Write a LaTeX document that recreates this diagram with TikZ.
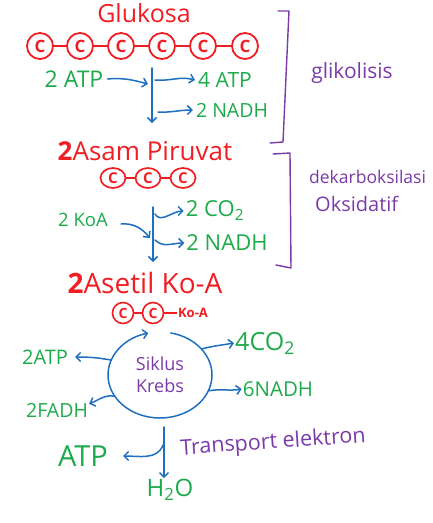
\documentclass[tikz,border=0pt]{standalone}
\usepackage{fontspec}
\setmainfont{Open Sans}
\usetikzlibrary{arrows.meta,shapes.geometric}
\definecolor{hred}{HTML}{F01E23}
\definecolor{hgreen}{HTML}{1DAA4B}
\definecolor{hblue}{HTML}{1F6FC0}
\definecolor{hpurple}{HTML}{7A3AA8}
\tikzset{
  carbon/.style={circle, draw=hred, line width=1.8pt, text=hred, minimum size=26pt, inner sep=0pt, font=\bfseries\fontsize{17}{17}\selectfont},
  carbonsm/.style={ellipse, draw=hred, line width=1.7pt, text=hred, minimum width=25pt, minimum height=20pt, inner sep=0pt, font=\bfseries\fontsize{15}{15}\selectfont},
  carbonxs/.style={circle, draw=hred, line width=1.6pt, text=hred, minimum size=21pt, inner sep=0pt, font=\bfseries\fontsize{14}{14}\selectfont},
  bond/.style={hred, line width=1.6pt},
  flow/.style={hblue, line width=1.5pt, line cap=round, -{Straight Barb[length=4.5pt,width=9pt]}},
  brace/.style={hpurple, line width=1.4pt, line cap=round, line join=round},
  title/.style={text=hred, inner sep=1pt},
  prod/.style={text=hgreen, inner sep=1pt},
  lab/.style={text=hpurple, inner sep=1pt},
}
\begin{document}
\begin{tikzpicture}[x=1pt,y=-1pt]
\useasboundingbox (0,0) rectangle (432,523);

% ---------- Glukosa ----------
\node[title, font=\fontsize{25}{27}\selectfont] (glu) at (144,13) {Glukosa};
\foreach \i/\x in {1/40,2/80,3/121,4/162,5/203,6/245}{
  \node[carbon] (c\i) at (\x,46) {C};
}
\foreach \a/\b in {1/2,2/3,3/4,4/5,5/6}{ \draw[bond] (c\a) -- (c\b); }

\node[prod, font=\fontsize{23}{25}\selectfont] (atpin) at (74,79) {2 ATP};
\node[prod, font=\fontsize{21}{23}\selectfont] (atp4) at (225,80) {4 ATP};
\node[prod, font=\fontsize{19.5}{21}\selectfont] (nadh2a) at (232,110) {2 NADH};
\coordinate (v1top) at (152,68);
\coordinate (v1bot) at (152,123);
\coordinate (j1) at (148,84);
\coordinate (o1) at (155,80);
\coordinate (o2) at (158,112);
\draw[flow] (v1top) -- (v1bot);
\draw[flow] ([xshift=3pt]atpin.east) to[out=5,in=165] (j1);
\draw[flow] (o1) to[out=-5,in=165] ([xshift=-2pt]atp4.west);
\draw[flow] (o2) to[out=-3,in=180] ([xshift=-2pt]nadh2a.west);

% glikolisis bracket
\draw[brace] (278,11) -- (289,11) -- (283,142) -- (270,143);
\node[lab, font=\fontsize{21}{23}\selectfont] (glik) at (352,73) {glikolisis};

% ---------- Asam Piruvat ----------
\node[title, font=\fontsize{26}{28}\selectfont] (pir) at (145,151) {\textbf{2}Asam Piruvat};
\foreach \i/\x in {1/113,2/148,3/183}{
  \node[carbonsm] (p\i) at (\x,178) {C};
}
\draw[bond] (p1) -- (p2);
\draw[bond] (p2) -- (p3);

\node[prod, font=\fontsize{18.5}{20}\selectfont] (koain) at (83,220) {2 KoA};
\node[prod, font=\fontsize{22}{24}\selectfont] (co2a) at (215,211) {2 CO\textsubscript{2}};
\node[prod, font=\fontsize{22}{24}\selectfont] (nadh2b) at (227,243) {2 NADH};
\coordinate (v2top) at (153,207);
\coordinate (v2bot) at (153,262);
\coordinate (j2) at (150,238);
\coordinate (o3) at (155,214);
\coordinate (o4) at (155,240);
\draw[flow] (v2top) -- (v2bot);
\draw[flow] ([xshift=12pt,yshift=-4pt]koain.east) to[out=5,in=130] (j2);
\draw[flow] (o3) to[out=-60,in=180] ([xshift=-1pt]co2a.west);
\draw[flow] (o4) to[out=-45,in=180] ([xshift=-1pt]nadh2b.west);

% dekarboksilasi bracket
\draw[brace] (273,154) -- (290,153) -- (291,268) -- (276,265);
\node[lab, font=\fontsize{17.5}{20}\selectfont, anchor=west] (dek) at (308,177) {dekarboksilasi};
\node[lab, font=\fontsize{20}{22}\selectfont, anchor=west] (oks) at (314,204) {Oksidatif};

% ---------- Asetil Ko-A ----------
\node[title, font=\fontsize{28}{30}\selectfont] (ase) at (145,283) {\textbf{2}Asetil Ko-A};
\node[carbonxs] (a1) at (123,313) {C};
\node[carbonxs] (a2) at (153,313) {C};
\node[text=hred, font=\bfseries\fontsize{13}{13}\selectfont, inner sep=1pt] (koa) at (193,313) {Ko-A};
\draw[bond] (a1) -- (a2);
\draw[bond] (a2) -- (koa);

% ---------- Siklus Krebs ----------
\coordinate (kc) at (160,375);
\node[ellipse, minimum width=104pt, minimum height=86pt, inner sep=0pt, align=center, text=hpurple, font=\fontsize{18}{22}\selectfont] (krebs) at (kc) {Siklus\\Krebs};
\draw[flow] (kc) ++(-78:52 and 43) arc[start angle=-78, end angle=257, x radius=52, y radius=43];

\node[prod, font=\fontsize{20}{22}\selectfont] (atp2) at (45,357) {2ATP};
\node[prod, font=\fontsize{25}{27}\selectfont] (co24) at (265,343) {4CO\textsubscript{2}};
\node[prod, font=\fontsize{20.5}{22}\selectfont] (nadh6) at (278,389) {6NADH};
\node[prod, font=\fontsize{19.5}{21}\selectfont] (fadh) at (57,410) {2FADH};
\draw[flow] (krebs.163) to[out=170,in=0] ([xshift=6pt]atp2.east);
\draw[flow] (krebs.32) to[out=15,in=190] (co24.west);
\draw[flow] (krebs.-18) to[out=10,in=190] (nadh6.west);
\draw[flow] (krebs.205) to[out=170,in=20] ([xshift=0pt,yshift=-2pt]fadh.north east);

% ---------- Transport elektron ----------
\coordinate (tstart) at (164,427);
\coordinate (tbr) at (163,445);
\node[prod, font=\fontsize{29}{31}\selectfont] (atpe) at (83,456) {ATP};
\node[prod, font=\fontsize{24}{26}\selectfont] (h2o) at (170,490) {H\textsubscript{2}O};
\draw[flow] (tstart) -- (tstart |- h2o.north);
\draw[flow] (tbr) to[out=-110,in=0] ([xshift=14pt]atpe.east);
\node[lab, font=\fontsize{21.5}{23}\selectfont, rotate=4] (trans) at (273,443) {Transport elektron};
\end{tikzpicture}
\end{document}
